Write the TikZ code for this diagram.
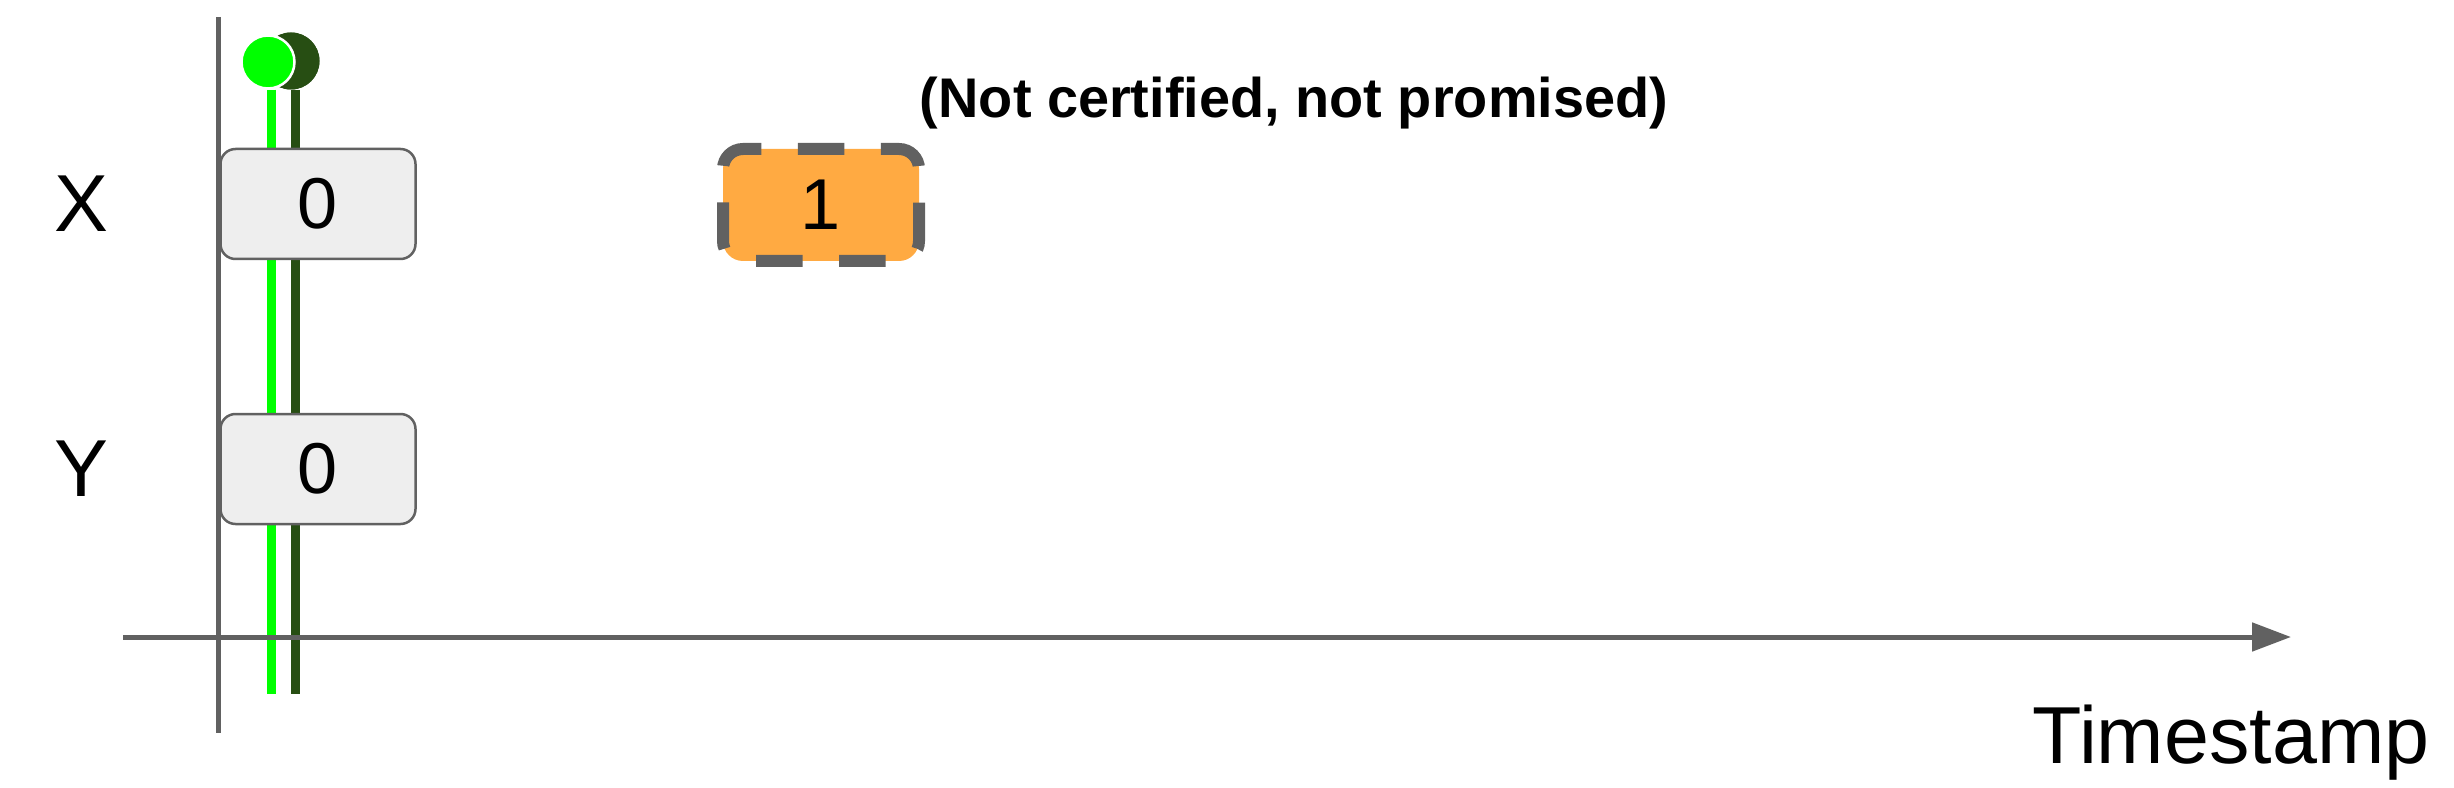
\documentclass[tikz,border=0pt]{standalone}
\usepackage{fontspec}
\setmainfont{Liberation Sans}
\usetikzlibrary{positioning,arrows.meta}
\definecolor{axisgray}{HTML}{616161}
\definecolor{boxgray}{HTML}{EEEEEE}
\definecolor{litegreen}{HTML}{00FF00}
\definecolor{darkgreen}{HTML}{274E13}
\definecolor{pendorange}{HTML}{FFAA42}

\begin{document}
\begin{tikzpicture}[x=0.2mm,y=-0.2mm,node distance=53mm,
  axis/.style={draw=axisgray,line width=1mm},
  track/.style={line width=1.8mm},
  valbox/.style={draw=axisgray,line width=0.5mm,fill=boxgray,rounded corners=3mm,
    minimum width=39mm,minimum height=22mm,inner sep=0pt,font=\fontsize{41}{41}\selectfont},
  pendbox/.style={fill=pendorange,rounded corners=4mm,minimum width=39.2mm,minimum height=22.4mm,
    inner sep=0pt,outer sep=0pt,font=\fontsize{41}{41}\selectfont},
  pendedge/.style={draw=axisgray,line width=2.4mm,rounded corners=4mm,
    dash pattern=on 9.3mm off 7.32mm,dash phase=8.65mm},
  keylabel/.style={font=\fontsize{46}{46}\selectfont}]
  \useasboundingbox (0,0) rectangle (2454,788);

  \coordinate (vtop) at (218,17);
  \coordinate (vbot) at (218,733);
  \coordinate (tstart) at (123,637);
  \coordinate (tend) at (2291,637);
  \coordinate (ltend) at (271,694);
  \coordinate (dkend) at (295,694);

  \node[circle,fill=darkgreen,minimum size=11.4mm,inner sep=0pt] (dkdot) at (291,61) {};
  \node[circle,fill=litegreen,draw=white,line width=0.5mm,minimum size=10.6mm,inner sep=0pt] (ltdot) at (268,62) {};

  \draw[axis] (vtop) -- (vbot);
  \draw[track,litegreen] (ltdot.south -| ltend) -- (ltend);
  \draw[track,darkgreen] (dkdot.south -| dkend) -- (dkend);
  \draw[axis,-{Triangle[length=7.8mm,width=5.6mm]}] (tstart) -- (tend);

  \node[circle,fill=darkgreen,minimum size=11.4mm,inner sep=0pt] at (dkdot) {};
  \node[circle,fill=litegreen,draw=white,line width=0.5mm,minimum size=10.6mm,inner sep=0pt] at (ltdot) {};

  \node[valbox] (x0) at (318,204) {0};
  \node[valbox] (y0) [below of=x0] {0};
  \node[keylabel] (xlab) [left of=x0,node distance=47.4mm] {X};
  \node[keylabel] (ylab) [left of=y0,node distance=47.4mm] {Y};

  \node[pendbox] (x1) at (821,205) {1};
  \draw[pendedge] (x1.north) -- (x1.north east) -- (x1.south east) -- (x1.south west) -- (x1.north west) -- cycle;
  \node[anchor=base,font=\bfseries\fontsize{31.8}{31.8}\selectfont] (note) at (1294,118) {(Not certified, not promised)};

  \node[keylabel,anchor=base] (tslabel) at (2231,763) {Timestamp};
\end{tikzpicture}
\end{document}
